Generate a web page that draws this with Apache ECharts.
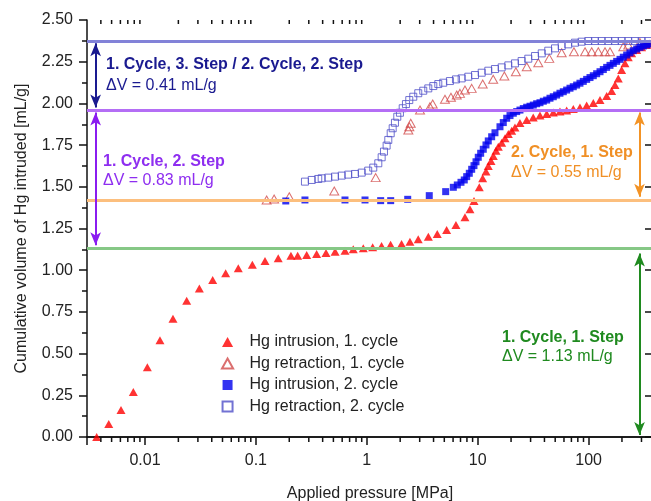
<!DOCTYPE html>
<html><head><meta charset="utf-8">
<script src="https://cdn.jsdelivr.net/npm/echarts@6/dist/echarts.min.js"></script>
<style>html,body{margin:0;padding:0;background:#fff}#c{width:651px;height:501px}</style>
</head><body><div id="c"></div>
<script>
// ---- data ----
const intr1P = [0.00367,0.00471,0.00608,0.00785,0.0105,0.01365,0.01788,0.02377,0.0309,0.0408,0.0534,0.0694,0.0929,0.1208,0.159,0.207,0.238,0.287,0.353,0.429,0.518,0.636,0.755,0.93,1.13,1.36,1.64,2.06,2.45,2.91,3.59,4.32,5.25,6.37,7.68,8.52,9.26,10.34,11.09,11.88,12.46,13.18,13.83,14.62,15.34,16.46,17.63,18.88,20.26,21.7,24.06,27.66,31.7,36.45,41.9,48.07,55.2,63.4,72.8,83.6,96.1,110.3,126.8,145.6,161.4,173,185.3,198.7,212.9,228,244.6,271.6,301,334,357.7];
const intr1V = [0.00,0.078,0.162,0.27,0.418,0.58,0.709,0.817,0.891,0.941,0.981,1.011,1.033,1.055,1.071,1.087,1.087,1.091,1.097,1.103,1.11,1.117,1.125,1.131,1.137,1.145,1.153,1.157,1.171,1.185,1.201,1.217,1.241,1.271,1.317,1.365,1.415,1.497,1.551,1.591,1.625,1.655,1.685,1.716,1.740,1.764,1.791,1.817,1.836,1.856,1.882,1.900,1.915,1.927,1.936,1.945,1.951,1.957,1.966,1.975,1.987,2.002,2.020,2.044,2.074,2.110,2.150,2.200,2.240,2.276,2.300,2.320,2.336,2.350,2.359];

const retr1P = [0.125,0.146,0.2,0.509,1.203,2.37,2.42,2.49,3.02,3.71,3.93,5.07,5.74,6.47,6.92,7.68,8.83,11.1,13.8,17.4,22.1,27.7,35.2,44.2,57.2,73.8,92.9,106.7,122.3,140.6,156,205.6,228,290];
const retr1V = [1.421,1.427,1.44,1.475,1.555,1.841,1.860,1.881,1.960,1.980,1.996,2.025,2.037,2.050,2.060,2.080,2.090,2.116,2.145,2.164,2.190,2.220,2.244,2.270,2.304,2.310,2.310,2.310,2.310,2.310,2.310,2.340,2.350,2.365];

const intr2P = [0.186,0.277,0.636,0.964,1.334,1.643,2.339,3.66,5.145,6.03,6.55,7.07,7.57,7.96,8.40,8.83,9.26,9.66,10.12,10.64,11.23,11.88,12.46,13.37,14.32,15.89,17.02,18.27,19.56,20.95,22.48,24.06,25.78,27.66,29.63,31.73,34.04,36.45,39.06,41.9,44.87,48.07,51.54,55.2,59.15,63.42,67.97,72.8,78.1,83.6,89.6,96.1,103,110.3,118.3,126.8,135.8,145.6,156,167.1,179.2,192,205.6,220.6,236,253,271.6,290.6,311.4,334,357.7];
const intr2V = [1.415,1.421,1.421,1.421,1.417,1.417,1.425,1.447,1.471,1.497,1.511,1.527,1.541,1.561,1.581,1.605,1.627,1.650,1.677,1.701,1.725,1.751,1.775,1.800,1.824,1.860,1.885,1.911,1.927,1.941,1.951,1.960,1.969,1.977,1.983,1.990,1.998,2.004,2.013,2.020,2.031,2.040,2.050,2.061,2.070,2.080,2.091,2.100,2.110,2.121,2.132,2.144,2.155,2.166,2.178,2.190,2.203,2.216,2.228,2.240,2.252,2.264,2.277,2.290,2.303,2.316,2.326,2.336,2.344,2.350,2.356];

const retr2P = [0.277,0.319,0.365,0.392,0.450,0.517,0.594,0.681,0.783,0.900,1.03,1.144,1.27,1.362,1.429,1.51,1.563,1.643,1.712,1.795,1.884,1.99,2.108,2.256,2.416,2.626,2.912,3.23,3.586,3.98,4.414,4.895,5.62,6.37,7.17,8.23,9.46,10.87,12.47,14.32,16.45,18.89,21.69,24.9,28.6,32.9,37.8,43.3,49.8,57.2,65.6,75.4,86.6,99.4,114.2,131.2,150.6,173,198.7,228,262,301,345];
const retr2V = [1.531,1.541,1.547,1.551,1.555,1.561,1.567,1.573,1.577,1.585,1.597,1.615,1.641,1.677,1.711,1.747,1.781,1.821,1.851,1.884,1.920,1.944,1.971,1.996,2.020,2.040,2.061,2.076,2.090,2.104,2.116,2.124,2.134,2.144,2.150,2.160,2.170,2.184,2.196,2.206,2.216,2.228,2.240,2.254,2.268,2.284,2.300,2.316,2.330,2.344,2.354,2.364,2.370,2.374,2.374,2.374,2.374,2.374,2.374,2.374,2.374,2.374,2.374];

const seriesNames = ['Hg intrusion, 1. cycle','Hg retraction, 1. cycle','Hg intrusion, 2. cycle','Hg retraction, 2. cycle'];
const xTickLabels = {'-2':'0.01','-1':'0.1','0':'1','1':'10','2':'100'};
const xMinorTicks = [0.004,0.005,0.006,0.007,0.008,0.009,0.02,0.03,0.04,0.05,0.06,0.07,0.08,0.09,0.2,0.3,0.4,0.5,0.6,0.7,0.8,0.9,2,3,4,5,6,7,8,9,20,30,40,50,60,70,80,90,200,300];
// step levels (mL/g) and annotation arrows
const stepLevels = [2.37, 1.96, 1.42, 1.13];
const stepColors = ['#8282d8', '#b46ef5', '#fcbf7e', '#86c886'];
const arrowX = [0.00359, 0.00359, 288, 288];
const arrowFrom = [2.36, 1.945, 1.945, 1.10];
const arrowTo = [1.975, 1.15, 1.44, 0.012];
const arrowColors = ['#1a1a90', '#8a1cf0', '#f39325', '#1f8a1f'];

// ---- chart ----
const F = "'Liberation Sans', Arial, Helvetica, sans-serif";
const pairs = (p, v) => p.map((x, i) => [x, v[i]]);
const chart = echarts.init(document.getElementById('c'), null, {renderer: 'canvas'});
const axisCol = '#111';
const TRI = 'path://M5,0L10,9L0,9Z';
const SQR = 'path://M0,0H8V8H0Z';

const option = {
  animation: false,
  backgroundColor: '#fff',
  grid: {left: 87, right: -2, top: 20, bottom: 64, containLabel: false, outerBoundsMode: 'none'},
  legend: {
    orient: 'vertical', left: 221, top: 334, padding: 0,
    itemWidth: 34, itemHeight: 10, itemGap: 5.5,
    data: [
      {name: seriesNames[0], icon: TRI},
      {name: seriesNames[1], icon: TRI},
      {name: seriesNames[2], icon: SQR},
      {name: seriesNames[3], icon: SQR}
    ],
    textStyle: {fontSize: 16, color: '#222', fontFamily: F}
  },
  xAxis: [{
    type: 'log', logBase: 10, min: 0.003, max: 381, position: 'bottom',
    name: 'Applied pressure [MPa]', nameLocation: 'middle', nameGap: 49,
    nameTextStyle: {fontSize: 16, color: '#222', fontFamily: F},
    axisLine: {lineStyle: {color: axisCol, width: 1.5}},
    axisTick: {length: 8, lineStyle: {color: axisCol, width: 1.5}},
    axisLabel: {fontSize: 16, color: '#222', fontFamily: F, margin: 16,
      formatter: v => { const l = Math.round(Math.log10(v)); return Math.abs(Math.log10(v) - l) < 1e-6 && xTickLabels[String(l)] ? xTickLabels[String(l)] : ''; }},
    splitLine: {show: false}
  }, {
    type: 'log', logBase: 10, min: 0.003, max: 381, position: 'top',
    axisLine: {lineStyle: {color: axisCol, width: 1.5}},
    axisTick: {inside: true, length: 8, lineStyle: {color: axisCol, width: 1.5}},
    axisLabel: {show: false}, splitLine: {show: false}
  }],
  yAxis: [{
    type: 'value', min: 0, max: 2.5, interval: 0.25,
    name: 'Cumulative volume of Hg intruded [mL/g]', nameLocation: 'middle', nameGap: 57,
    nameTextStyle: {fontSize: 16, color: '#222', fontFamily: F},
    axisLine: {show: true, lineStyle: {color: axisCol, width: 1.5}},
    axisTick: {show: true, length: 8, lineStyle: {color: axisCol, width: 1.5}},
    minorTick: {show: true, splitNumber: 2, length: 5, lineStyle: {color: axisCol, width: 1.5}},
    axisLabel: {fontSize: 16, color: '#222', fontFamily: F, margin: 14, formatter: v => v.toFixed(2)},
    splitLine: {show: false}
  }, {
    type: 'value', min: 0, max: 2.5, interval: 0.25, position: 'right',
    axisLine: {show: true, lineStyle: {color: axisCol, width: 1.5}},
    axisTick: {show: true, inside: true, length: 8, lineStyle: {color: axisCol, width: 1.5}},
    axisLabel: {show: false}, splitLine: {show: false}
  }],
  graphic: [
    {type: 'text', x: 106, y: 65, style: {text: '1. Cycle, 3. Step / 2. Cycle, 2. Step', font: 'bold 16px ' + F, fill: '#1a1a90', verticalAlign: 'middle'}},
    {type: 'text', x: 106, y: 86, style: {text: 'ΔV = 0.41 mL/g', font: '16px ' + F, fill: '#1a1a90', verticalAlign: 'middle'}},
    {type: 'text', x: 103, y: 162, style: {text: '1. Cycle, 2. Step', font: 'bold 16px ' + F, fill: '#8e2ef0', verticalAlign: 'middle'}},
    {type: 'text', x: 103, y: 181, style: {text: 'ΔV = 0.83 mL/g', font: '16px ' + F, fill: '#8e2ef0', verticalAlign: 'middle'}},
    {type: 'text', x: 511, y: 153, style: {text: '2. Cycle, 1. Step', font: 'bold 16px ' + F, fill: '#f08f25', verticalAlign: 'middle'}},
    {type: 'text', x: 511, y: 173, style: {text: 'ΔV = 0.55 mL/g', font: '16px ' + F, fill: '#f08f25', verticalAlign: 'middle'}},
    {type: 'text', x: 502, y: 338, style: {text: '1. Cycle, 1. Step', font: 'bold 16px ' + F, fill: '#1f8a1f', verticalAlign: 'middle'}},
    {type: 'text', x: 502, y: 357, style: {text: 'ΔV = 1.13 mL/g', font: '16px ' + F, fill: '#1f8a1f', verticalAlign: 'middle'}}
  ],
  series: [
    {
      type: 'scatter', data: [], silent: true, z: 1,
      markLine: {
        silent: true, symbol: 'none', label: {show: false}, animation: false,
        data: stepLevels.map((y, i) => ({yAxis: y, lineStyle: {color: stepColors[i], width: 3, type: 'solid', opacity: 1}}))
      }
    },
    {
      type: 'scatter', data: [], silent: true, z: 6,
      markLine: {
        silent: true, symbol: ['arrow', 'arrow'], symbolSize: [8, 13], label: {show: false}, animation: false,
        data: arrowX.map((x, i) => [
          {coord: [x, arrowFrom[i]], lineStyle: {color: arrowColors[i], width: 2, type: 'solid'}, itemStyle: {color: arrowColors[i]}},
          {coord: [x, arrowTo[i]], lineStyle: {color: arrowColors[i], width: 2, type: 'solid'}, itemStyle: {color: arrowColors[i]}}
        ])
      }
    },
    {
      type: 'custom', silent: true, clip: false, z: 7,
      data: xMinorTicks,
      encode: {x: 0},
      renderItem: (params, api) => {
        const v = api.value(0);
        const b = api.coord([v, 0]);
        const t = api.coord([v, 2.5]);
        const st = {stroke: axisCol, lineWidth: 1.5};
        return {type: 'group', children: [
          {type: 'line', shape: {x1: b[0], y1: b[1], x2: b[0], y2: b[1] + 5}, style: st},
          {type: 'line', shape: {x1: t[0], y1: t[1], x2: t[0], y2: t[1] + 4}, style: st}
        ]};
      }
    },
    {
      name: seriesNames[1], type: 'scatter', data: pairs(retr1P, retr1V), z: 3,
      symbol: 'triangle', symbolSize: [9, 8],
      itemStyle: {color: 'rgba(255,255,255,0)', borderColor: '#d24b4b', borderWidth: 1},
      emphasis: {disabled: true}
    },
    {
      name: seriesNames[3], type: 'scatter', data: pairs(retr2P, retr2V), z: 3,
      symbol: 'rect', symbolSize: 7,
      itemStyle: {color: 'rgba(255,255,255,0)', borderColor: '#4f4fc8', borderWidth: 1},
      emphasis: {disabled: true}
    },
    {
      name: seriesNames[0], type: 'scatter', data: pairs(intr1P, intr1V), z: 4,
      symbol: 'triangle', symbolSize: [9, 8],
      itemStyle: {color: '#ff0000'},
      emphasis: {disabled: true}
    },
    {
      name: seriesNames[2], type: 'scatter', data: pairs(intr2P, intr2V), z: 4,
      symbol: 'rect', symbolSize: 7,
      itemStyle: {color: '#0000ee'},
      emphasis: {disabled: true}
    }
  ]
};
chart.setOption(option);
</script>
</body></html>
